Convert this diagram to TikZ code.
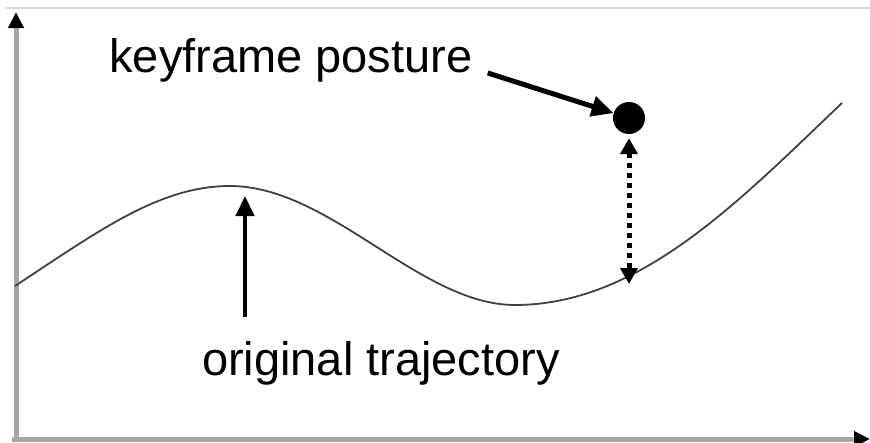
\documentclass[tikz,border=0pt]{standalone}
\usepackage{fontspec}
\setmainfont{Liberation Sans}
\usetikzlibrary{arrows.meta}
\begin{document}
\begin{tikzpicture}[x=1pt,y=-1pt,
  axisline/.style={draw=black!35,line width=5pt},
  axistip/.style={-{Triangle[length=16pt,width=15pt,fill=black,color=black]}},
  curveline/.style={draw=black!75,line width=1.8pt},
  label/.style={font=\fontsize{47}{56}\selectfont,inner sep=0pt,anchor=base},
  pointer/.style={draw=black,line width=5pt,-{Triangle[length=22pt,width=20pt]}},
  dotdist/.style={draw=black,line width=5pt,dash pattern=on 5pt off 5pt,
    {Triangle[length=16pt,width=17pt]}-{Triangle[length=16pt,width=17pt]}},
  keydot/.style={circle,fill=black,inner sep=0pt,minimum size=32pt}]
\useasboundingbox (0,0) rectangle (870,442);
% top frame line
\coordinate (tl) at (5,7.5);
\coordinate (tr) at (870,7.5);
\draw[draw=black!15,line width=2pt] (tl) -- (tr);
% axes
\coordinate (origin) at (16,442);
\coordinate (ytop) at (16,12);
\coordinate (xorig) at (12,439);
\coordinate (xend) at (870,439);
\draw[axisline,axistip] (origin) -- (ytop);
\draw[axisline,axistip] (xorig) -- (xend);
% trajectory
\coordinate (c0) at (15,286);
\coordinate (c1) at (230,186);
\coordinate (c2) at (515,305);
\coordinate (c3) at (842,103);
\draw[curveline] (c0) .. controls (100,230) and (160,186) .. (c1)
  .. controls (330,186) and (420,305) .. (c2)
  .. controls (640,305) and (740,200) .. (c3);
% keyframe dot
\node[keydot] (kf) at (629,118) {};
\coordinate (oncurve) at (629,284);
\draw[dotdist,shorten <=4pt] (kf.south) -- (oncurve);
% labels
\node[label] (kp) at (291,72) {keyframe posture};
\node[label] (ot) at (381,375) {original trajectory};
\draw[pointer] ([xshift=15pt,yshift=-1pt]kp.base east) -- (kf);
\coordinate (peak) at (245,187);
\coordinate (otarrow) at (245,317);
\draw[draw=black,line width=4.5pt,-{Triangle[length=20pt,width=18pt]},shorten >=9pt] (otarrow) -- (peak);
\end{tikzpicture}
\end{document}
